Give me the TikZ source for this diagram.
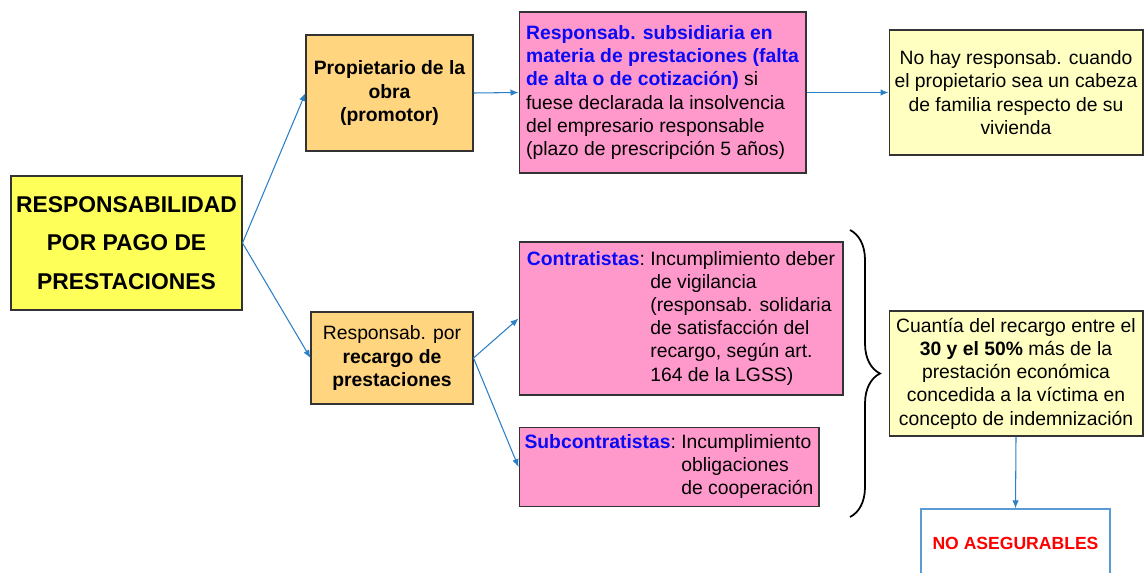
\documentclass[tikz,border=0pt]{standalone}
\usepackage{fontspec}
\setmainfont{Liberation Sans}
\usetikzlibrary{arrows.meta,decorations.pathreplacing}

\definecolor{mainyellow}{HTML}{FFFF5A}
\definecolor{ownerorange}{HTML}{FFD580}
\definecolor{rosepink}{HTML}{FF99CC}
\definecolor{paleyellow}{HTML}{FFFFC2}
\definecolor{linkblue}{HTML}{2A7FC6}
\definecolor{textblue}{HTML}{0A0AF5}
\definecolor{asegblue}{HTML}{5B9BD5}

\newcommand{\bluebold}[1]{{\color{textblue}\bfseries #1}}

\tikzset{
  box/.style={draw=black!80, line width=0.6pt, inner sep=0.1cm,
    font=\fontsize{11}{13.2}\selectfont},
  link/.style={draw=linkblue, line width=0.6pt,
    -{Latex[length=1.6mm,width=1.3mm]}},
}

\begin{document}
\begin{tikzpicture}[x=0.02cm, y=-0.02cm]
  \useasboundingbox (0,0) rectangle (1145,572);

  % Main box
  \node[box, fill=mainyellow, minimum width=4.62cm, minimum height=2.68cm,
    align=center, font=\fontsize{13}{22}\selectfont\bfseries]
    (main) at (126.5,243) {RESPONSABILIDAD\\POR PAGO DE\\PRESTACIONES};

  % Upper branch
  \node[box, fill=ownerorange, minimum width=3.34cm, minimum height=2.32cm,
    align=center, font=\fontsize{11}{13.2}\selectfont\bfseries]
    (owner) at (389.5,93) {Propietario de la\\obra\\(promotor)};
  \node[box, fill=rosepink, minimum width=5.74cm, minimum height=3.22cm,
    align=left] (subsid) at (662.5,92.5)
    {\bluebold{Responsab. subsidiaria en}\\
     \bluebold{materia de prestaciones (falta}\\
     \bluebold{de alta o de cotización)} si\\
     fuese declarada la insolvencia\\
     del empresario responsable\\
     (plazo de prescripción 5 años)};
  \node[box, fill=paleyellow, minimum width=5.08cm, minimum height=2.5cm,
    align=center] (nohay) at (1016,92.5)
    {No hay responsab. cuando\\el propietario sea un cabeza\\
     de familia respecto de su\\vivienda};

  % Lower branch
  \node[box, fill=ownerorange, minimum width=3.24cm, minimum height=1.84cm,
    align=center] (recargo) at (392,358)
    {Responsab. por\\\textbf{recargo de}\\\textbf{prestaciones}};
  \node[box, fill=rosepink, minimum width=6.48cm, minimum height=3.06cm]
    (contr) at (681,318.5)
    {\begin{tabular}{@{}l@{\ }l@{}}
      \bluebold{Contratistas}: & Incumplimiento deber\\
      & de vigilancia\\
      & (responsab. solidaria\\
      & de satisfacción del\\
      & recargo, según art.\\
      & 164 de la LGSS)
     \end{tabular}};
  \node[box, fill=rosepink, minimum width=6cm, minimum height=1.56cm]
    (subcontr) at (669,467)
    {\begin{tabular}{@{}l@{\ }l@{}}
      \bluebold{Subcontratistas}: & Incumplimiento\\
      & obligaciones\\
      & de cooperación
     \end{tabular}};

  % Recargo
  \draw[line width=1pt, decorate, decoration={brace, amplitude=0.6cm}]
    (850,230) -- (850,517);
  \node[box, fill=paleyellow, minimum width=5.08cm, minimum height=2.5cm,
    align=center] (cuantia) at (1016,373.5)
    {Cuantía del recargo entre el\\\textbf{30 y el 50\%} más de la\\
     prestación económica\\concedida a la víctima en\\
     concepto de indemnización};
  \node[draw=asegblue, line width=0.8pt, fill=white, minimum width=3.78cm,
    minimum height=1.36cm, text=red, font=\fontsize{10}{12}\selectfont\bfseries]
    (noaseg) at (1015.5,543) {NO ASEGURABLES};

  % Arrows
  \draw[link] (main.east) -- (owner.west);
  \draw[link] (main.east) -- (recargo.west);
  \draw[link] (owner.east) -- (subsid.west);
  \draw[link] (subsid.east) -- (nohay.west);
  \draw[link] (recargo.east) -- (contr.west);
  \draw[link] (recargo.east) -- (subcontr.west);
  \draw[link] (cuantia.south) -- (noaseg.north);
\end{tikzpicture}
\end{document}
